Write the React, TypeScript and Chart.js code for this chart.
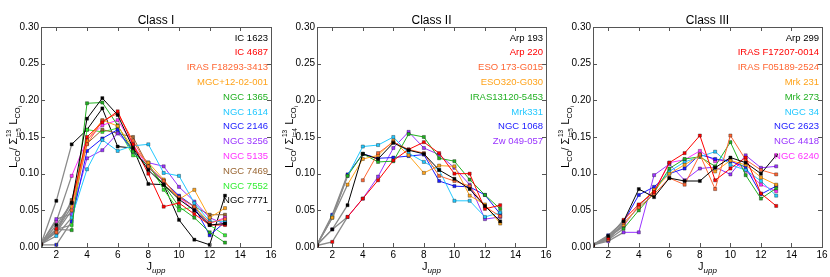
import React, { useEffect, useRef } from "react";
import { Chart, registerables } from "chart.js";
Chart.register(...registerables);

const FONT = "'Liberation Sans', Arial, Helvetica, sans-serif";

const J_UPP = [1, 2, 3, 4, 5, 6, 7, 8, 9, 10, 11, 12, 13];
const X_TICKS = [2, 4, 6, 8, 10, 12, 14, 16];
const Y_TICKS = [0, 0.05, 0.1, 0.15, 0.2, 0.25, 0.3];

// ---------- Class I ----------
const CLASS1_TITLE = "Class I";
const CLASS1_NAMES = [
  "IC 1623", "IC 4687", "IRAS F18293-3413", "MGC+12-02-001", "NGC 1365", "NGC 1614",
  "NGC 2146", "NGC 3256", "NGC 5135", "NGC 7469", "NGC 7552", "NGC 7771",
];
const IC1623 = [0.004, 0.030, 0.060, 0.175, 0.203, 0.180, 0.135, 0.105, 0.085, 0.065, 0.050, 0.030, 0.032];
const IC4687 = [0.005, 0.025, 0.060, 0.150, 0.170, 0.185, 0.140, 0.100, 0.055, 0.060, 0.045, 0.030, 0.030];
const IRASF18293 = [0.004, 0.020, 0.050, 0.140, 0.172, 0.182, 0.145, 0.110, 0.090, 0.068, 0.055, 0.033, 0.038];
const MGC1202 = [0.005, 0.022, 0.055, 0.145, 0.173, 0.165, 0.135, 0.115, 0.092, 0.065, 0.078, 0.040, 0.053];
const NGC1365 = [0.003, 0.024, 0.023, 0.196, 0.197, 0.166, 0.130, 0.110, 0.085, 0.055, 0.040, 0.020, 0.006];
const NGC1614 = [0.004, 0.015, 0.040, 0.106, 0.146, 0.131, 0.138, 0.140, 0.101, 0.097, 0.060, 0.035, 0.035];
const NGC2146 = [0.003, 0.003, 0.035, 0.131, 0.148, 0.160, 0.130, 0.110, 0.090, 0.070, 0.055, 0.016, 0.034];
const NGC3256 = [0.004, 0.038, 0.045, 0.121, 0.132, 0.155, 0.135, 0.115, 0.110, 0.082, 0.062, 0.040, 0.031];
const NGC5135 = [0.005, 0.035, 0.097, 0.146, 0.166, 0.173, 0.140, 0.108, 0.090, 0.068, 0.050, 0.032, 0.040];
const NGC7469 = [0.005, 0.020, 0.064, 0.141, 0.160, 0.155, 0.150, 0.110, 0.085, 0.068, 0.055, 0.044, 0.044];
const NGC7552 = [0.004, 0.024, 0.030, 0.160, 0.157, 0.162, 0.125, 0.115, 0.078, 0.050, 0.055, 0.030, 0.016];
const NGC7771 = [0.004, 0.063, 0.140, 0.160, 0.189, 0.137, 0.135, 0.086, 0.085, 0.037, 0.010, 0.003, 0.070];
const CLASS1_SERIES = [IC1623, IC4687, IRASF18293, MGC1202, NGC1365, NGC1614, NGC2146, NGC3256, NGC5135, NGC7469, NGC7552, NGC7771];
const CLASS1_COLORS = ["#000000", "#ff0000", "#ff6633", "#ffa31a", "#22b022", "#22c8ff", "#1a1aff", "#9933ff", "#ff33ff", "#996633", "#33ee33", "#000000"];

// ---------- Class II ----------
const CLASS2_TITLE = "Class II";
const CLASS2_NAMES = [
  "Arp 193", "Arp 220", "ESO 173-G015", "ESO320-G030", "IRAS13120-5453", "Mrk331", "NGC 1068", "Zw 049-057",
];
const ARP193 = [0.003, 0.024, 0.057, 0.127, 0.120, 0.142, 0.132, 0.127, 0.105, 0.093, 0.079, 0.056, 0.035];
const ARP220 = [0.002, 0.007, 0.041, 0.066, 0.091, 0.118, 0.133, 0.143, 0.128, 0.100, 0.100, 0.052, 0.057];
const ESO173 = [null, null, null, 0.091, 0.128, 0.143, 0.133, 0.128, 0.097, 0.090, 0.083, 0.055, 0.042];
const ESO320 = [0.003, 0.040, 0.085, 0.120, 0.125, 0.145, 0.125, 0.101, 0.111, 0.110, 0.070, 0.058, 0.032];
const IRAS13120 = [0.003, 0.040, 0.097, 0.127, 0.116, 0.117, 0.154, 0.150, 0.121, 0.117, 0.092, 0.071, 0.052];
const MRK331 = [0.003, 0.042, 0.097, 0.137, 0.139, 0.150, 0.128, 0.116, 0.105, 0.063, 0.063, 0.041, 0.047];
const NGC1068 = [0.003, 0.044, 0.099, 0.127, 0.121, 0.122, 0.124, 0.126, 0.090, 0.083, 0.082, 0.071, 0.045];
const ZW049 = [0.003, 0.024, 0.041, 0.066, 0.096, 0.135, 0.157, 0.135, 0.126, 0.108, 0.085, 0.038, 0.041];
const CLASS2_SERIES = [ARP193, ARP220, ESO173, ESO320, IRAS13120, MRK331, NGC1068, ZW049];
const CLASS2_COLORS = ["#000000", "#ff0000", "#ff6633", "#ffa31a", "#22b022", "#22c8ff", "#1a1aff", "#9933ff"];

// ---------- Class III ----------
const CLASS3_TITLE = "Class III";
const CLASS3_NAMES = [
  "Arp 299", "IRAS F17207-0014", "IRAS F05189-2524", "Mrk 231", "Mrk 273", "NGC 34", "NGC 2623", "NGC 4418", "NGC 6240",
];
const ARP299 = [0.003, 0.015, 0.035, 0.079, 0.068, 0.094, 0.090, 0.090, 0.108, 0.122, 0.115, 0.100, 0.125];
const IRASF17207 = [0.003, 0.012, 0.037, 0.058, 0.075, 0.115, 0.128, 0.152, 0.091, 0.107, 0.122, 0.073, 0.056];
const IRASF05189 = [0.003, 0.010, 0.033, 0.054, 0.072, 0.094, 0.085, 0.126, 0.079, 0.152, 0.119, 0.105, 0.099];
const MRK231 = [0.003, 0.012, 0.030, 0.056, 0.078, 0.100, 0.112, 0.125, 0.103, 0.118, 0.112, 0.095, 0.085];
const MRK273 = [0.003, 0.010, 0.025, 0.050, 0.074, 0.107, 0.120, 0.123, 0.110, 0.143, 0.098, 0.066, 0.080];
const NGC34 = [0.003, 0.014, 0.030, 0.055, 0.077, 0.103, 0.116, 0.123, 0.130, 0.112, 0.105, 0.090, 0.070];
const NGC2623 = [0.003, 0.016, 0.034, 0.071, 0.082, 0.100, 0.107, 0.126, 0.120, 0.117, 0.109, 0.072, 0.083];
const NGC4418 = [0.003, 0.008, 0.020, 0.020, 0.098, 0.113, 0.091, 0.107, 0.109, 0.099, 0.125, 0.108, 0.110];
const NGC6240 = [0.003, 0.013, 0.028, 0.057, 0.076, 0.115, 0.119, 0.131, 0.117, 0.119, 0.104, 0.085, 0.076];
const CLASS3_SERIES = [ARP299, IRASF17207, IRASF05189, MRK231, MRK273, NGC34, NGC2623, NGC4418, NGC6240];
const CLASS3_COLORS = ["#000000", "#ff0000", "#ff6633", "#ffa31a", "#22b022", "#22c8ff", "#1a1aff", "#9933ff", "#ff33ff"];

const GRAY = "#8a8a8a";
const FRAME = "#555555";

function drawYTitle(ctx: CanvasRenderingContext2D, x: number, cy: number, lower: string) {
  type Part = { t?: string; stack?: [string, string]; s: number; dy: number };
  const parts: Part[] = [
    { t: "L", s: 11, dy: 0 },
    { t: "CO", s: 7.5, dy: 3 },
    { t: "/ ", s: 11, dy: 0 },
    { t: "\u03A3", s: 11, dy: 0 },
    { stack: ["13", "i=" + lower], s: 6.5, dy: 0 },
    { t: " L", s: 11, dy: 0 },
    { t: "CO", s: 7.5, dy: 3 },
    { t: "i", s: 5.5, dy: 5 },
  ];
  const widths = parts.map((p) => {
    ctx.font = `${p.s}px ${FONT}`;
    if (p.stack) return Math.max(ctx.measureText(p.stack[0]).width, ctx.measureText(p.stack[1]).width) + 1;
    return ctx.measureText(p.t as string).width;
  });
  const total = widths.reduce((a, b) => a + b, 0);
  ctx.save();
  ctx.translate(x, cy);
  ctx.rotate(-Math.PI / 2);
  ctx.fillStyle = "#000";
  ctx.textAlign = "left";
  ctx.textBaseline = "alphabetic";
  let px = -total / 2;
  parts.forEach((p, i) => {
    ctx.font = `${p.s}px ${FONT}`;
    if (p.stack) {
      ctx.fillText(p.stack[0], px + 0.5, -6);
      ctx.fillText(p.stack[1], px + 0.5, 3.5);
    } else {
      ctx.fillText(p.t as string, px, p.dy);
    }
    px += widths[i];
  });
  ctx.restore();
}

function makeDecor(title: string, names: string[], colors: string[], lower: string) {
  return {
    id: "decor",
    afterDraw(chart: any) {
      const ctx: CanvasRenderingContext2D = chart.ctx;
      const { left, right, top, bottom } = chart.chartArea;
      const xs = chart.scales.x;
      const ys = chart.scales.y;
      ctx.save();
      // frame
      ctx.strokeStyle = FRAME;
      ctx.lineWidth = 1;
      ctx.strokeRect(Math.round(left) + 0.5, Math.round(top) + 0.5, Math.round(right - left), Math.round(bottom - top));
      // inward ticks
      ctx.beginPath();
      X_TICKS.forEach((v) => {
        const px = Math.round(xs.getPixelForValue(v)) + 0.5;
        ctx.moveTo(px, bottom);
        ctx.lineTo(px, bottom - 4);
        ctx.moveTo(px, top);
        ctx.lineTo(px, top + 4);
      });
      Y_TICKS.forEach((v) => {
        const py = Math.round(ys.getPixelForValue(v)) + 0.5;
        ctx.moveTo(left, py);
        ctx.lineTo(left + 4, py);
        ctx.moveTo(right, py);
        ctx.lineTo(right - 4, py);
      });
      ctx.stroke();
      // title
      ctx.fillStyle = "#000";
      ctx.font = `12px ${FONT}`;
      ctx.textAlign = "center";
      ctx.textBaseline = "middle";
      ctx.fillText(title, (left + right) / 2, top - 6);
      // legend
      ctx.font = `9.5px ${FONT}`;
      ctx.textAlign = "right";
      names.forEach((n, i) => {
        ctx.fillStyle = colors[i];
        ctx.fillText(n, right - 3, top + 11 + i * 14.8);
      });
      // x title
      ctx.fillStyle = "#000";
      ctx.textAlign = "left";
      ctx.textBaseline = "alphabetic";
      ctx.font = `11px ${FONT}`;
      const wJ = ctx.measureText("J").width;
      ctx.font = `italic 8px ${FONT}`;
      const wU = ctx.measureText("upp").width;
      const x0 = (left + right) / 2 - (wJ + wU) / 2;
      ctx.font = `11px ${FONT}`;
      ctx.fillText("J", x0, bottom + 23);
      ctx.font = `italic 8px ${FONT}`;
      ctx.fillText("upp", x0 + wJ, bottom + 26);
      ctx.restore();
      drawYTitle(ctx, left - 24, (top + bottom) / 2, lower);
    },
  };
}

type PanelProps = {
  left: number;
  width: number;
  yWidth: number;
  rightPad: number;
  title: string;
  names: string[];
  series: (number | null)[][];
  colors: string[];
  lower: string;
};

function Panel(props: PanelProps) {
  const ref = useRef<HTMLCanvasElement>(null);
  useEffect(() => {
    if (!ref.current) return;
    const datasets = props.series.map((vals, i) => ({
      label: props.names[i],
      data: J_UPP.map((j, k) => ({ x: j, y: vals[k] })),
      borderColor: props.colors[i],
      backgroundColor: props.colors[i],
      pointBorderColor: "rgba(0,0,0,0.55)",
      pointBorderWidth: 0.6,
      pointStyle: "rect",
      pointRadius: 2.2,
      borderWidth: 1,
      spanGaps: false,
      segment: {
        borderColor: (c: any) => (c.p1.parsed.x <= 3 ? GRAY : undefined),
        borderWidth: (c: any) => (c.p1.parsed.x <= 3 ? 1.3 : undefined),
      },
    }));
    const chart = new Chart(ref.current, {
      type: "line",
      data: { datasets: datasets as any },
      options: {
        animation: false,
        responsive: false,
        maintainAspectRatio: false,
        layout: { padding: { top: 27, right: props.rightPad, left: 0, bottom: 0 } },
        plugins: { legend: { display: false }, tooltip: { enabled: false }, title: { display: false } },
        scales: {
          x: {
            type: "linear",
            min: 1,
            max: 16,
            afterBuildTicks: (s: any) => {
              s.ticks = X_TICKS.map((v) => ({ value: v }));
            },
            afterFit: (s: any) => {
              s.height = 30;
            },
            ticks: { color: "#000", font: { size: 10, family: FONT }, padding: 2, maxRotation: 0, autoSkip: false },
            grid: { display: false, drawTicks: false },
            border: { display: false },
          },
          y: {
            type: "linear",
            min: 0,
            max: 0.3,
            afterBuildTicks: (s: any) => {
              s.ticks = Y_TICKS.map((v) => ({ value: v }));
            },
            afterFit: (s: any) => {
              s.width = props.yWidth;
            },
            ticks: {
              color: "#000",
              font: { size: 10, family: FONT },
              padding: 2,
              callback: (v: any) => Number(v).toFixed(2),
            },
            grid: { display: false, drawTicks: false },
            border: { display: false },
          },
        },
      } as any,
      plugins: [makeDecor(props.title, props.names, props.colors, props.lower)],
    });
    return () => chart.destroy();
  }, []);
  return (
    <canvas
      ref={ref}
      width={props.width}
      height={277}
      style={{ position: "absolute", left: props.left, top: 0, width: props.width, height: 277 }}
    />
  );
}

export default function App() {
  return (
    <div style={{ position: "absolute", left: 0, top: 0, width: 830, height: 277, background: "#fff", overflow: "hidden" }}>
      <Panel left={0} width={280} yWidth={41} rightPad={9} title={CLASS1_TITLE} names={CLASS1_NAMES} series={CLASS1_SERIES} colors={CLASS1_COLORS} lower="5" />
      <Panel left={280} width={276} yWidth={37} rightPad={10} title={CLASS2_TITLE} names={CLASS2_NAMES} series={CLASS2_SERIES} colors={CLASS2_COLORS} lower="4" />
      <Panel left={556} width={274} yWidth={37} rightPad={8} title={CLASS3_TITLE} names={CLASS3_NAMES} series={CLASS3_SERIES} colors={CLASS3_COLORS} lower="5" />
    </div>
  );
}
